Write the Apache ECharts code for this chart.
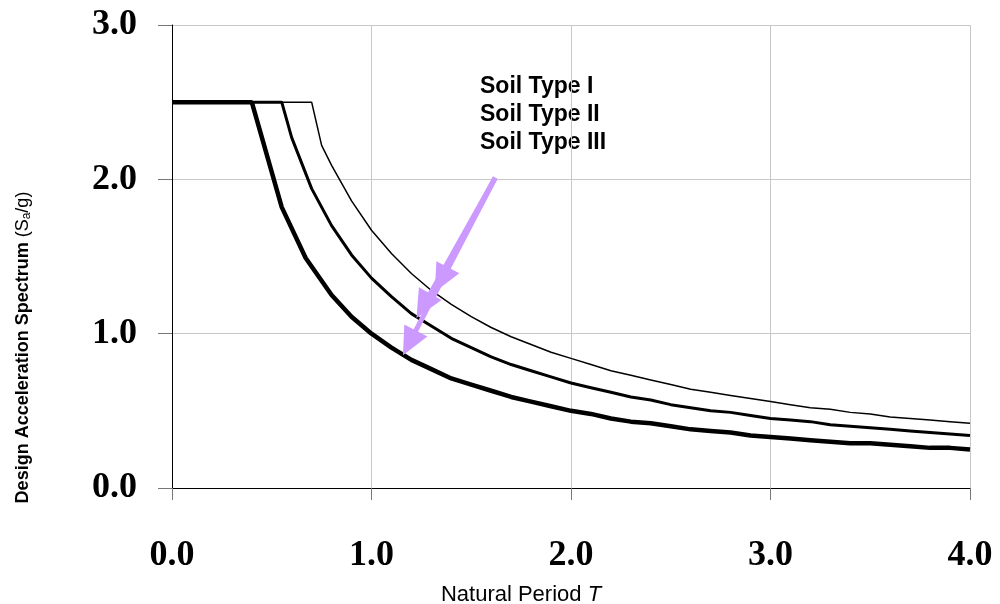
<!DOCTYPE html>
<html>
<head>
<meta charset="utf-8">
<script src="https://cdn.jsdelivr.net/npm/echarts@6/dist/echarts.min.js"></script>
<style>html,body{margin:0;padding:0;background:#fff}#c{width:1000px;height:604px}</style>
</head>
<body>
<div id="c"></div>
<script>
// Soil Type I (thick)
const periodI = [0, 0.1, 0.2, 0.3, 0.4, 0.55, 0.67, 0.8, 0.9, 1.0, 1.1, 1.2, 1.3, 1.4, 1.5, 1.6, 1.7, 1.8, 1.9, 2.0, 2.1, 2.2, 2.3, 2.4, 2.5, 2.6, 2.7, 2.8, 2.9, 3.0, 3.1, 3.2, 3.3, 3.4, 3.5, 3.6, 3.7, 3.8, 3.9, 4.0];
const saI = [2.5, 2.5, 2.5, 2.5, 2.5, 1.82, 1.49, 1.25, 1.11, 1.00, 0.91, 0.83, 0.77, 0.71, 0.67, 0.63, 0.59, 0.56, 0.53, 0.50, 0.48, 0.45, 0.43, 0.42, 0.40, 0.38, 0.37, 0.36, 0.34, 0.33, 0.32, 0.31, 0.30, 0.29, 0.29, 0.28, 0.27, 0.26, 0.26, 0.25];
// Soil Type II (medium)
const periodII = [0, 0.1, 0.2, 0.3, 0.4, 0.55, 0.6, 0.7, 0.8, 0.9, 1.0, 1.1, 1.2, 1.3, 1.4, 1.5, 1.6, 1.7, 1.8, 1.9, 2.0, 2.1, 2.2, 2.3, 2.4, 2.5, 2.6, 2.7, 2.8, 2.9, 3.0, 3.1, 3.2, 3.3, 3.4, 3.5, 3.6, 3.7, 3.8, 3.9, 4.0];
const saII = [2.5, 2.5, 2.5, 2.5, 2.5, 2.5, 2.27, 1.94, 1.70, 1.51, 1.36, 1.24, 1.13, 1.05, 0.97, 0.91, 0.85, 0.80, 0.76, 0.72, 0.68, 0.65, 0.62, 0.59, 0.57, 0.54, 0.52, 0.50, 0.49, 0.47, 0.45, 0.44, 0.43, 0.41, 0.40, 0.39, 0.38, 0.37, 0.36, 0.35, 0.34];
// Soil Type III (thin)
const periodIII = [0, 0.1, 0.2, 0.3, 0.4, 0.5, 0.6, 0.7, 0.75, 0.8, 0.9, 1.0, 1.1, 1.2, 1.3, 1.4, 1.5, 1.6, 1.7, 1.8, 1.9, 2.0, 2.1, 2.2, 2.3, 2.4, 2.5, 2.6, 2.7, 2.8, 2.9, 3.0, 3.1, 3.2, 3.3, 3.4, 3.5, 3.6, 3.7, 3.8, 3.9, 4.0];
const saIII = [2.5, 2.5, 2.5, 2.5, 2.5, 2.5, 2.5, 2.5, 2.22, 2.09, 1.86, 1.67, 1.52, 1.39, 1.28, 1.19, 1.11, 1.04, 0.98, 0.93, 0.88, 0.84, 0.80, 0.76, 0.73, 0.70, 0.67, 0.64, 0.62, 0.60, 0.58, 0.56, 0.54, 0.52, 0.51, 0.49, 0.48, 0.46, 0.45, 0.44, 0.43, 0.42];

const xTicks = [0, 1, 2, 3, 4];
const yTicks = [0, 1, 2, 3];
const legendLabels = ['Soil Type I', 'Soil Type II', 'Soil Type III'];
// annotation arrows (data coords): common start, three arrowhead centres
const arrowStart = [1.62, 2.01];
const arrowTips = [[1.35, 1.35], [1.26, 1.18], [1.19, 0.94]];

const zip = (a, b) => a.map((v, i) => [v, b[i]]);

const chart = echarts.init(document.getElementById('c'), null, {renderer: 'canvas'});
const serifLbl = {fontFamily: '"Liberation Serif", "Times New Roman", serif', fontWeight: 'bold', fontSize: 36, color: '#000'};
const sans = '"Liberation Sans", Arial, sans-serif';

chart.setOption({
  animation: false,
  backgroundColor: '#fff',
  grid: {left: 172, right: 30, top: 25, bottom: 116, containLabel: false, outerBoundsMode: 'none'},
  xAxis: {
    type: 'value', min: xTicks[0], max: xTicks[xTicks.length - 1], interval: 1,
    name: 'Natural Period {i|T}', nameLocation: 'middle', nameGap: 96,
    nameTextStyle: {fontFamily: sans, fontSize: 22, color: '#000', padding: [0, 100, 0, 0],
      rich: {i: {fontFamily: sans, fontStyle: 'italic', fontSize: 22, color: '#000'}}},
    axisLine: {show: true, onZero: false, lineStyle: {color: '#000', width: 1}},
    axisTick: {show: true, length: 12, lineStyle: {color: '#777', width: 1}},
    axisLabel: Object.assign({margin: 50, lineHeight: 36, formatter: v => v.toFixed(1)}, serifLbl),
    splitLine: {show: true, lineStyle: {color: '#c8c8c8', width: 1}}
  },
  yAxis: {
    type: 'value', min: yTicks[0], max: yTicks[yTicks.length - 1], interval: 1,
    name: '{b|Design Acceleration Spectrum }{n|(S}{s|a}{n|/g)}', nameLocation: 'middle', nameGap: 139,
    nameRotate: 90,
    nameTextStyle: {
      padding: [0, 182, 0, 0],
      rich: {
        b: {fontFamily: sans, fontWeight: 'bold', fontSize: 18, color: '#000'},
        n: {fontFamily: sans, fontWeight: 'normal', fontSize: 18, color: '#000'},
        s: {fontFamily: sans, fontWeight: 'normal', fontSize: 12, color: '#000', verticalAlign: 'bottom', padding: [7, 0, 0, 0]}
      }
    },
    axisLine: {show: true, lineStyle: {color: '#000', width: 1}},
    axisTick: {show: true, length: 14, lineStyle: {color: '#777', width: 1}},
    axisLabel: Object.assign({margin: 35, formatter: v => v.toFixed(1)}, serifLbl),
    splitLine: {show: true, lineStyle: {color: '#c8c8c8', width: 1}}
  },
  series: [
    {name: legendLabels[2], type: 'line', data: zip(periodIII, saIII), showSymbol: false, symbol: 'none',
      lineStyle: {color: '#000', width: 1.5}, z: 3},
    {name: legendLabels[1], type: 'line', data: zip(periodII, saII), showSymbol: false, symbol: 'none',
      lineStyle: {color: '#000', width: 3}, z: 3},
    {name: legendLabels[0], type: 'line', data: zip(periodI, saI), showSymbol: false, symbol: 'none',
      lineStyle: {color: '#000', width: 4.5}, z: 3,
      markLine: {
        silent: true, animation: false,
        symbol: ['none', 'triangle'], symbolSize: [26, 28],
        label: {show: false},
        lineStyle: {color: '#cc99ff', width: 5, type: 'solid'},
        emphasis: {disabled: true},
        data: arrowTips.map(t => [{coord: arrowStart}, {coord: t}])
      }}
  ],
  graphic: legendLabels.map((t, i) => ({
    type: 'text', left: 480, top: 75 + i * 28,
    style: {text: t, fontFamily: sans, fontWeight: 'bold', fontSize: 23, fill: '#000'}
  }))
});
</script>
</body>
</html>
